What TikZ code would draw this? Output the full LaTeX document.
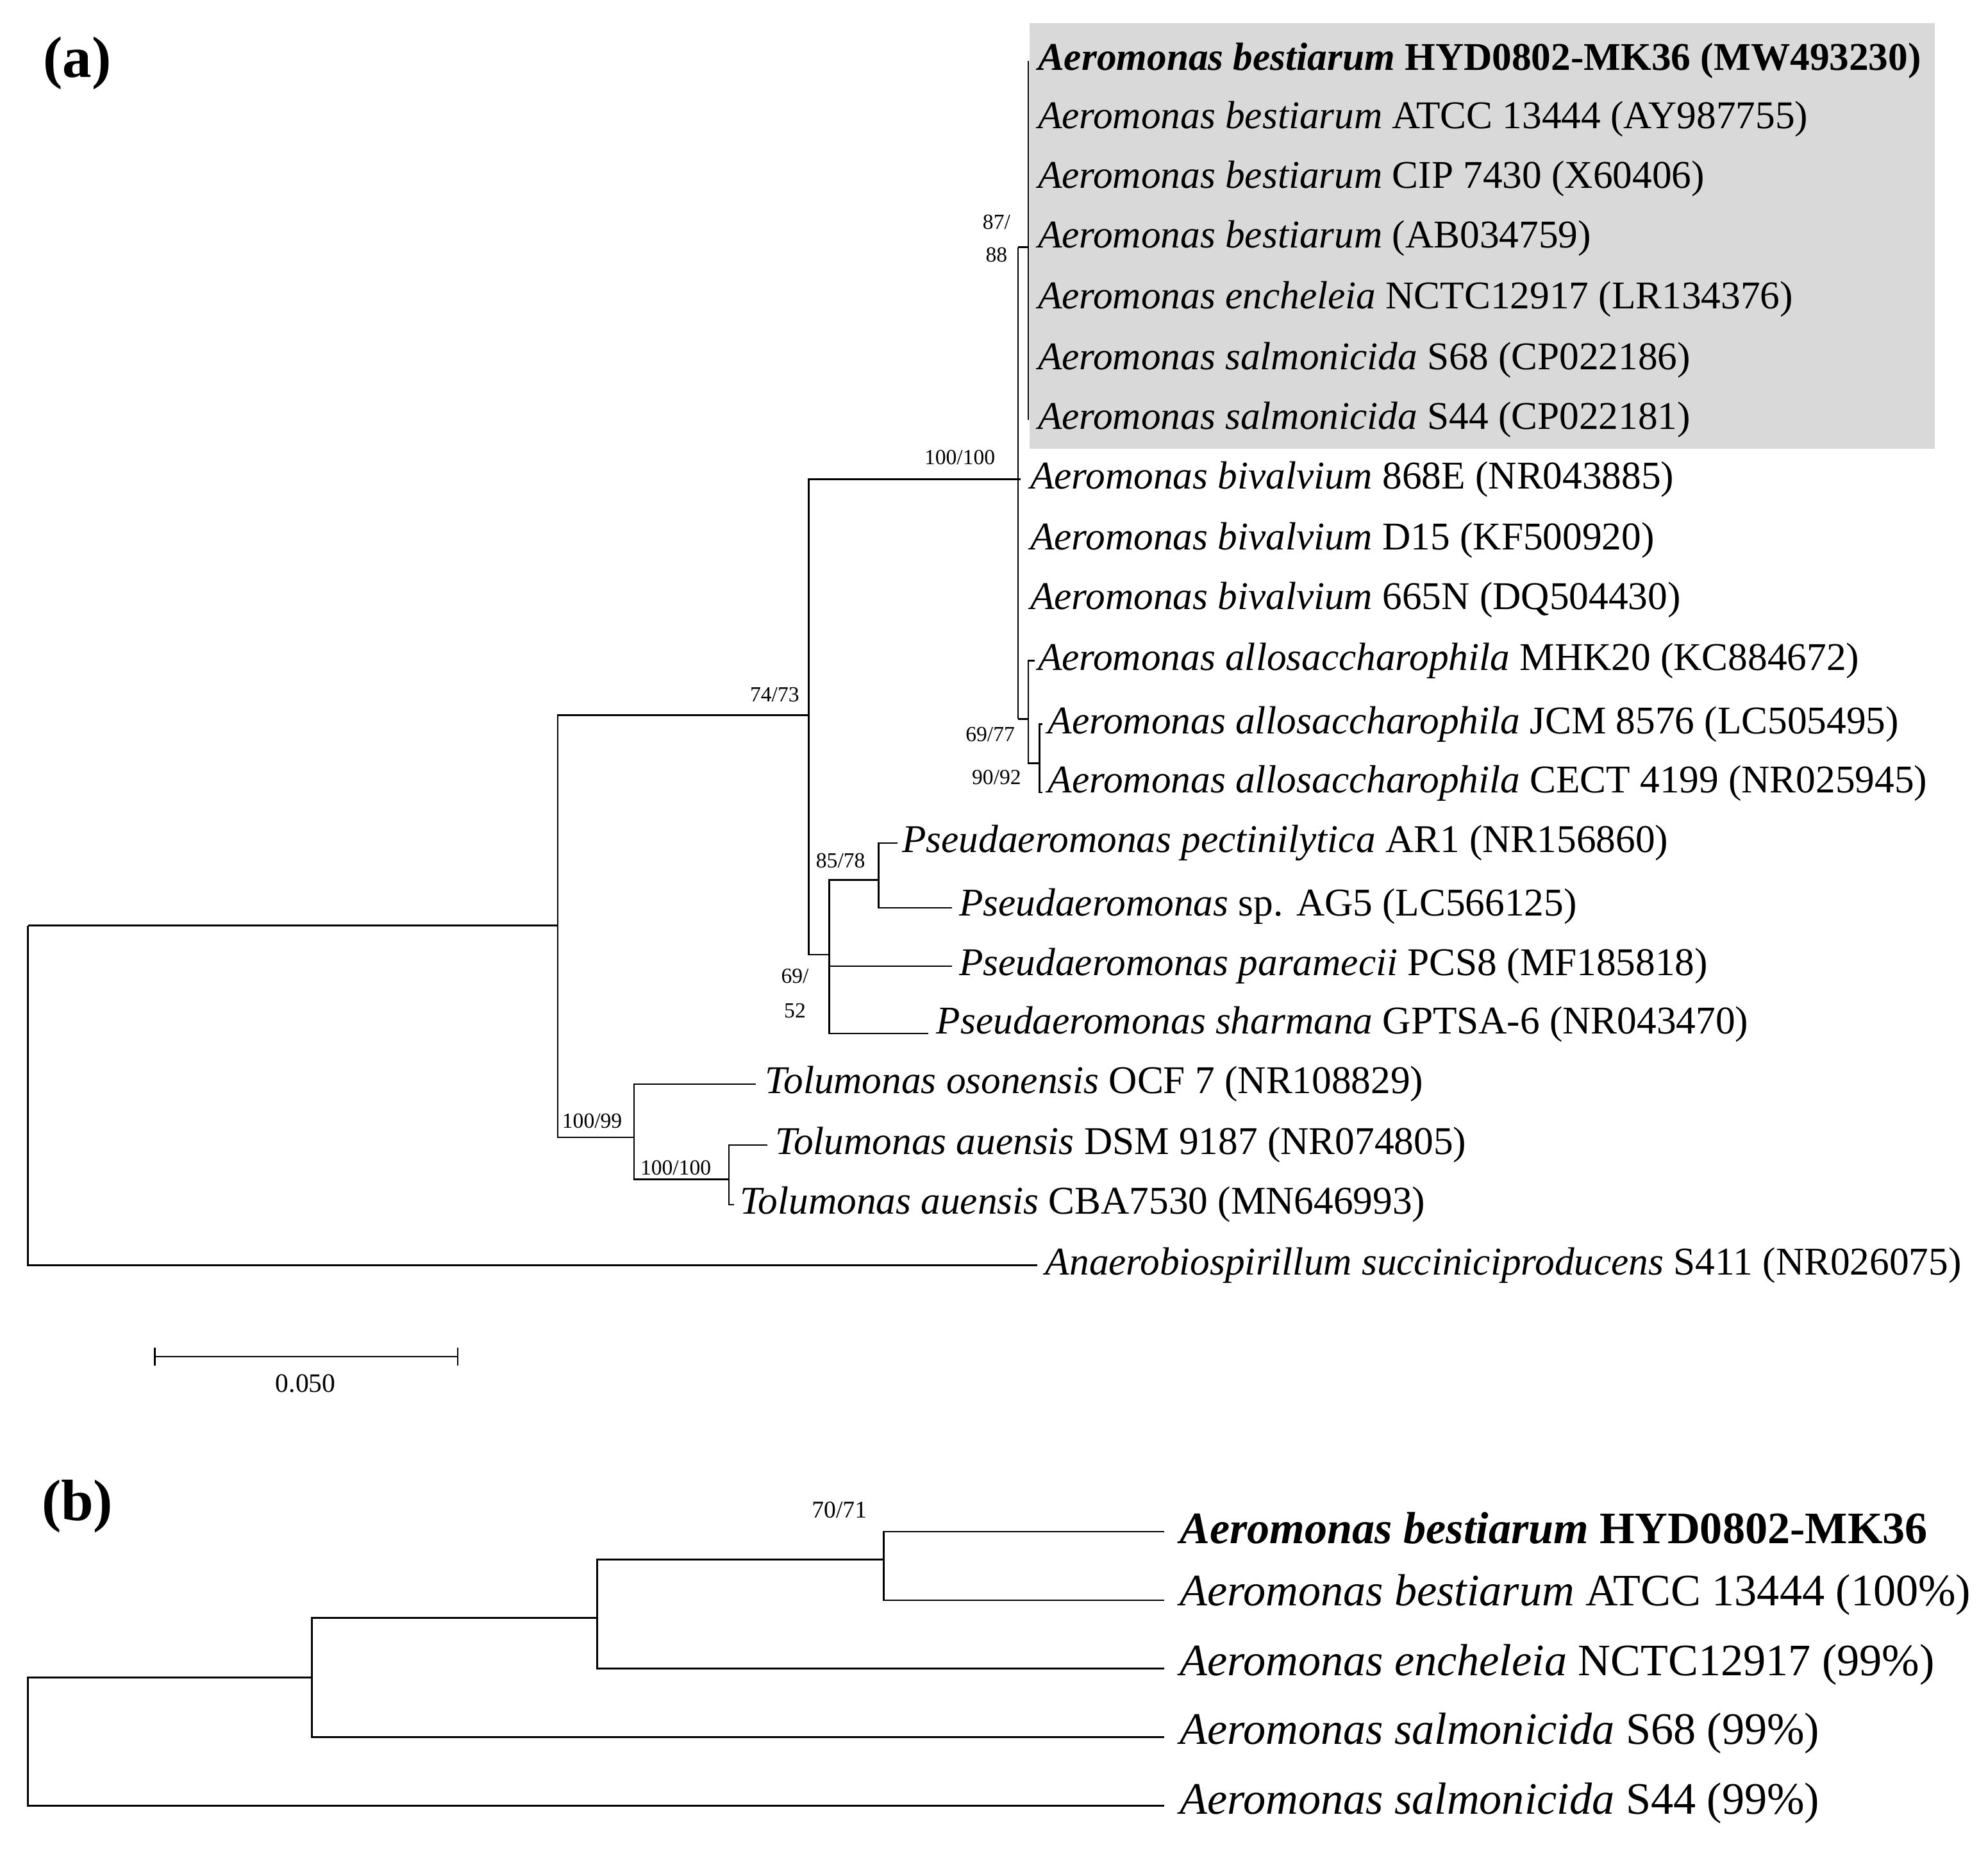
\documentclass[tikz,border=0pt]{standalone}
\usepackage{fontspec}
\setmainfont{Liberation Serif}
\begin{document}
\begin{tikzpicture}[x=1pt,y=-1pt,line width=1.3pt,
 lf/.style={anchor=west,inner sep=0pt,font=\fontsize{31}{31}\selectfont},
 lb/.style={anchor=west,inner sep=0pt,font=\fontsize{35.5}{35.5}\selectfont},
 sup/.style={inner sep=0pt,font=\fontsize{17}{17}\selectfont},
 br/.style={draw=black}]
\useasboundingbox (0,0) rectangle (1568,1458);
\fill[gray!30] (812,18) rectangle (1526,354);
\node[font=\fontsize{46}{46}\selectfont\bfseries] (la) at (61,50) {(a)};
\node[font=\fontsize{46}{46}\selectfont\bfseries] (lbb) at (61,1188) {(b)};
% leaves (a)
\node[lf] (t1) at (818,48) {\textbf{\textit{Aeromonas bestiarum} HYD0802-MK36 (MW493230)}};
\node[lf] (t2) at (818,94) {\textit{Aeromonas bestiarum} ATCC 13444 (AY987755)};
\node[lf] (t3) at (818,141) {\textit{Aeromonas bestiarum} CIP 7430 (X60406)};
\node[lf] (t4) at (818,188) {\textit{Aeromonas bestiarum} (AB034759)};
\node[lf] (t5) at (818,236) {\textit{Aeromonas encheleia} NCTC12917 (LR134376)};
\node[lf] (t6) at (818,284) {\textit{Aeromonas salmonicida} S68 (CP022186)};
\node[lf] (t7) at (818,331) {\textit{Aeromonas salmonicida} S44 (CP022181)};
\node[lf] (t8) at (812,378) {\textit{Aeromonas bivalvium} 868E (NR043885)};
\node[lf] (t9) at (812,426) {\textit{Aeromonas bivalvium} D15 (KF500920)};
\node[lf] (t10) at (812,473) {\textit{Aeromonas bivalvium} 665N (DQ504430)};
\node[lf] (t11) at (818,521) {\textit{Aeromonas allosaccharophila} MHK20 (KC884672)};
\node[lf] (t12) at (826,571) {\textit{Aeromonas allosaccharophila} JCM 8576 (LC505495)};
\node[lf] (t13) at (826,618) {\textit{Aeromonas allosaccharophila} CECT 4199 (NR025945)};
\node[lf] (t14) at (711,665) {\textit{Pseudaeromonas pectinilytica} AR1 (NR156860)};
\node[lf] (t15) at (756,715) {\textit{Pseudaeromonas} sp. AG5 (LC566125)};
\node[lf] (t16) at (756,762) {\textit{Pseudaeromonas paramecii} PCS8 (MF185818)};
\node[lf] (t17) at (738,808) {\textit{Pseudaeromonas sharmana} GPTSA-6 (NR043470)};
\node[lf] (t18) at (603,855) {\textit{Tolumonas osonensis} OCF 7 (NR108829)};
\node[lf] (t19) at (611,903) {\textit{Tolumonas auensis} DSM 9187 (NR074805)};
\node[lf] (t20) at (583,950) {\textit{Tolumonas auensis} CBA7530 (MN646993)};
\node[lf] (t21) at (824,998) {\textit{Anaerobiospirillum succiniciproducens} S411 (NR026075)};
% branches (a)
\draw (22,730) -- (22,998) -- (818,998);
\draw (22,730) -- (440,730);
\draw (638,564) -| (440,897) -- (500,897);
\draw (805,378) -| (638,753) -- (654,753);
\draw (803,195) -- (803,567);
\draw (811,48) -- (811,331);
\draw (803,195) -- (811,195);
\draw (803,567) -- (811,567);
\draw (816,521) -| (811,602) -- (820,602);
\draw (822,571) -| (820,625) -- (822,625);
\draw (693,694) -| (654,815) -- (732,815);
\draw (654,762) -- (751,762);
\draw (708,665) -| (693,716) -- (751,716);
\draw (596,855) -| (500,930) -- (575,930);
\draw (605,903) -| (575,950) -- (579,950);
% support (a)
\node[sup] (s1) at (786,175) {87/};
\node[sup] (s2) at (786,201) {88};
\node[sup] (s3) at (757,361) {100/100};
\node[sup] (s4) at (611,548) {74/73};
\node[sup] (s5) at (781,579) {69/77};
\node[sup] (s6) at (786,613) {90/92};
\node[sup] (s7) at (663,679) {85/78};
\node[sup] (s8) at (627,770) {69/};
\node[sup] (s9) at (627,797) {52};
\node[sup] (s10) at (467,884) {100/99};
\node[sup] (s11) at (533,921) {100/100};
% scale bar
\draw (122,1070) -- (361,1070);
\draw (122,1063) -- (122,1077);
\draw (361,1063) -- (361,1077);
\node[sup,font=\fontsize{21}{21}\selectfont] (sc) at (241,1091) {0.050};
% tree (b)
\node[lb] (b1) at (930,1205) {\textbf{\textit{Aeromonas bestiarum} HYD0802-MK36}};
\node[lb] (b2) at (930,1258) {\textit{Aeromonas bestiarum} ATCC 13444 (100\%)};
\node[lb] (b3) at (930,1313) {\textit{Aeromonas encheleia} NCTC12917 (99\%)};
\node[lb] (b4) at (930,1367) {\textit{Aeromonas salmonicida} S68 (99\%)};
\node[lb] (b5) at (930,1422) {\textit{Aeromonas salmonicida} S44 (99\%)};
\draw (246,1323) -| (22,1424) -- (918,1424);
\draw (471,1276) -| (246,1370) -- (918,1370);
\draw (697,1230) -| (471,1316) -- (918,1316);
\draw (918,1208) -| (697,1262) -- (918,1262);
\node[sup,font=\fontsize{19}{19}\selectfont] (s12) at (662,1191) {70/71};
\end{tikzpicture}
\end{document}
